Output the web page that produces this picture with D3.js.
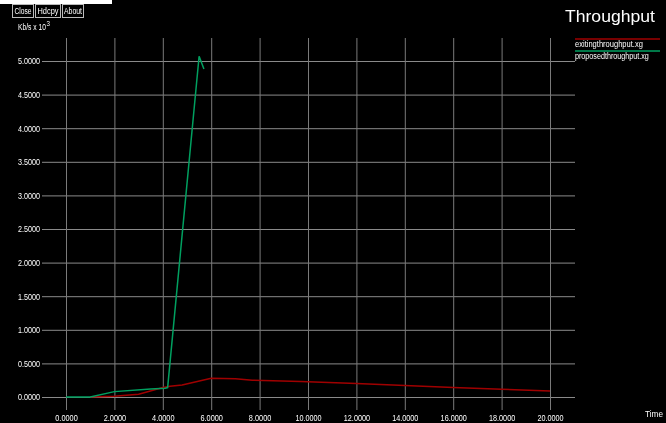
<!DOCTYPE html>
<html><head><meta charset="utf-8">
<script src="https://cdn.jsdelivr.net/npm/d3@7"></script>
<style>
html,body{margin:0;padding:0;background:#000;}
svg{display:block;will-change:transform;}
text{font-family:"Liberation Sans",Arial,sans-serif;fill:#fff;}
</style></head>
<body>
<svg id="c" width="666" height="423"></svg>
<script>
const xTicks = [0,2,4,6,8,10,12,14,16,18,20];
const yTicks = [0,0.5,1,1.5,2,2.5,3,3.5,4,4.5,5];
const existingT = [1.0,2.0,3.0,3.3,4.0,4.3,4.8,6.0,7.0,7.7,9.7,12,14,16,18,20];
const existingV = [0,0.01,0.04,0.07,0.14,0.16,0.18,0.28,0.27,0.25,0.23,0.20,0.17,0.14,0.115,0.09];
const proposedT = [0,1.0,2.0,3.5,4.1,4.2,5.5,5.7];
const proposedV = [0,0,0.08,0.12,0.13,0.14,5.07,4.88];
const seriesNames = ["exitingthroughput.xg","proposedthroughput.xg"];
const seriesColors = ["#a00000","#00a060"];
const buttons = ["Close","Hdcpy","About"];

const svg = d3.select("#c");
const x = d3.scaleLinear().domain([0,20]).range([66,550]);
const y = d3.scaleLinear().domain([0,5]).range([397,61]);
const fmt = d3.format(".4f");

function squeeze(node, width){
  const nat = node.getComputedTextLength();
  const s = width / nat;
  const tx = +(node.getAttribute("x") || 0);
  node.setAttribute("transform", `translate(${tx},0) scale(${s},1) translate(${-tx},0)`);
}
function addText(px, py, str, size, width, anchor){
  const t = svg.append("text").attr("x",px).attr("y",py).attr("font-size",size)
    .attr("text-anchor",anchor||"start").text(str);
  squeeze(t.node(), width);
  return t;
}

// top white strip & buttons
svg.append("rect").attr("x",0).attr("y",0).attr("width",112).attr("height",4).attr("fill","#fff");
const bx = [12,35,62], bw = [21,25,21], tw = [17,21,18];
buttons.forEach((b,i)=>{
  svg.append("rect").attr("x",bx[i]+0.5).attr("y",4.5).attr("width",bw[i]).attr("height",13)
    .attr("fill","#000").attr("stroke","#bbb");
  addText(bx[i]+bw[i]/2+0.5, 14.5, b, 9, tw[i], "middle");
});

// y label
addText(18, 30, "Kb/s x 10", 9, 28);
addText(46.5, 26, "3", 7, 3.5);

// horizontal grid + y labels
const ya = d3.axisLeft(y).tickValues(yTicks).tickSize(533).tickPadding(2).tickFormat(fmt);
const gy = svg.append("g").attr("transform","translate(575,0)").call(ya);
gy.select(".domain").remove();
gy.selectAll("line").attr("stroke","#8a8a8a");
gy.selectAll("text").attr("font-size",9).attr("fill","#fff")
  .style("font-family",'"Liberation Sans",Arial,sans-serif')
  .each(function(){ squeeze(this, 22); });

// vertical grid + x labels
const xa = d3.axisBottom(x).tickValues(xTicks).tickSize(372).tickPadding(4.5).tickFormat(fmt);
const gx = svg.append("g").attr("transform","translate(0,38)").call(xa);
gx.select(".domain").remove();
gx.selectAll("line").attr("stroke","#7a7a7a");
gx.selectAll("text").attr("font-size",9).attr("fill","#fff")
  .style("font-family",'"Liberation Sans",Arial,sans-serif')
  .each(function(d){ squeeze(this, fmt(d).length*3.75); });

// lines
const line = d3.line().x(d=>x(d[0])).y(d=>y(d[1]));
const ex = existingT.map((t,i)=>[t,existingV[i]]);
const pr = proposedT.map((t,i)=>[t,proposedV[i]]);
svg.append("path").datum(ex).attr("d",line).attr("fill","none").attr("stroke",seriesColors[0]).attr("stroke-width",1.5);
svg.append("path").datum(pr).attr("d",line).attr("fill","none").attr("stroke",seriesColors[1]).attr("stroke-width",1.5);

// title
addText(565, 22, "Throughput", 16, 90);

// legend
const lw = [68,74];
seriesNames.forEach((n,i)=>{
  const ly = 39 + i*12;
  svg.append("line").attr("x1",575).attr("x2",660).attr("y1",ly).attr("y2",ly)
    .attr("stroke",seriesColors[i]).attr("stroke-width",1.5);
  addText(575, ly+8.5, n, 9, lw[i]);
});

// x axis label
addText(645, 417, "Time", 9, 18);
</script>
</body></html>
